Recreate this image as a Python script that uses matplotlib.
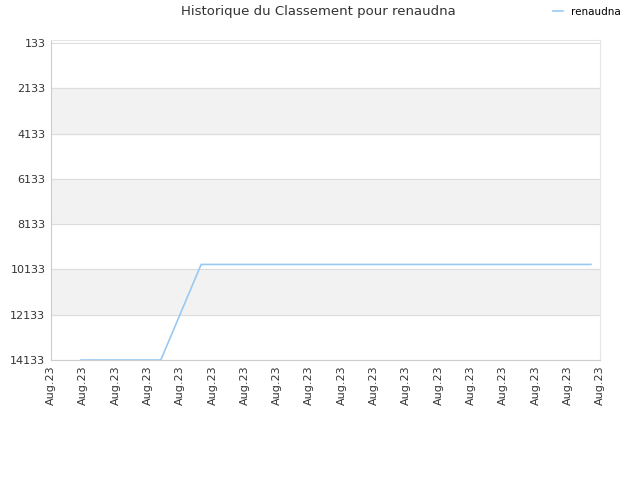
import numpy as np
import matplotlib
matplotlib.use("Agg")
from matplotlib import pyplot as plt

# x in tick-step units (one "Aug.23" label per step), y = rank
x_pos = [0.93, 3.4, 4.65, 7.05, 16.72]
rank = [14133, 14133, 9913, 9913, 9913]
y_ticks = [133, 2133, 4133, 6133, 8133, 10133, 12133, 14133]
x_labels = ["Aug.23"] * 18

fig = plt.figure(figsize=(6.4, 4.8), dpi=100)
ax = fig.add_axes([51/640, 1-360/480, 549/640, 320/480])

# alternating bands
for i in range(len(y_ticks)-1):
    if i % 2 == 1:
        ax.axhspan(y_ticks[i], y_ticks[i+1], color="#f2f2f2", zorder=0)
for t in y_ticks:
    ax.axhline(t, color="#dddddd", lw=0.8, zorder=1)

ax.plot(x_pos, rank, color="#99c9f3", lw=1.2, zorder=3, label="renaudna")

ax.set_ylim(14133, 0)
ax.set_xlim(0, 17)
ax.set_yticks(y_ticks)
ax.set_yticklabels([str(t) for t in y_ticks])
ax.set_xticks(np.arange(18))
ax.set_xticklabels(x_labels, rotation=90)
ax.tick_params(axis="both", length=0, labelsize=8, colors="#333333", pad=4)

for s in ["top", "right"]:
    ax.spines[s].set_color("#e6e6e6")
for s in ["left", "bottom"]:
    ax.spines[s].set_color("#cccccc")

fig.text(0.497, 0.975, "Historique du Classement pour renaudna", ha="center",
         va="center", fontsize=9.5, color="#333333")
fig.legend(loc="upper right", bbox_to_anchor=(0.985, 1.005), frameon=False,
           fontsize=7.5, handlelength=1.0, handletextpad=0.8)

plt.savefig("out.png")
